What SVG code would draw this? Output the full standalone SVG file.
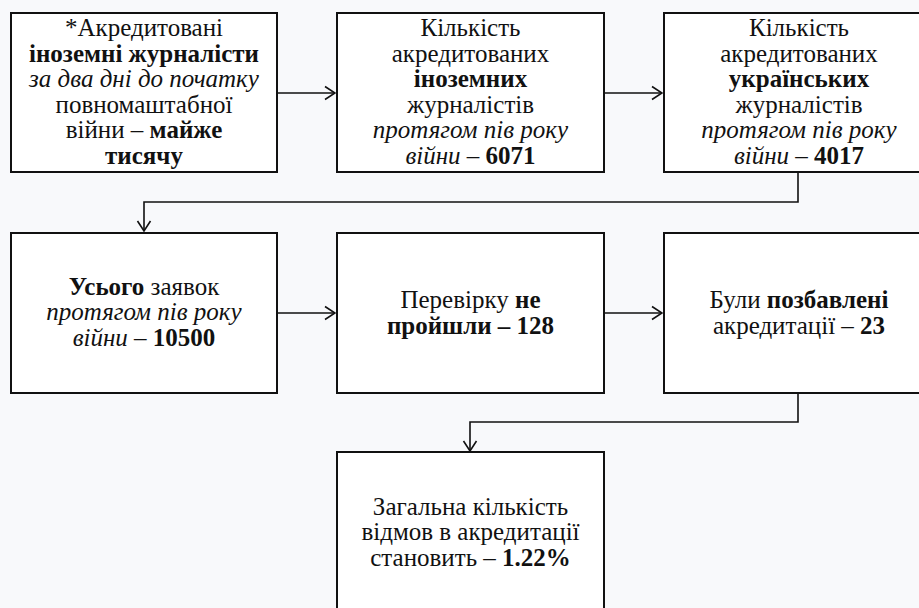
<svg xmlns="http://www.w3.org/2000/svg" width="919" height="608" viewBox="0 0 919 608">
<style>
.box{fill:#ffffff;stroke:#111111;stroke-width:2}
.t{font-family:'Liberation Serif','Times New Roman',serif;font-size:25px;fill:#111111;text-anchor:middle}
.b{font-weight:bold}
.i{font-style:italic}
.c{fill:none;stroke:#111111;stroke-width:1.6}
</style>
<defs>
<marker id="arr" viewBox="0 0 12 16" refX="11" refY="8" markerWidth="12" markerHeight="16" markerUnits="userSpaceOnUse" orient="auto">
<path d="M1,1.5 L11,8 L1,14.5" fill="none" stroke="#111111" stroke-width="1.6"/>
</marker>
</defs>
<rect x="0" y="0" width="919" height="608" fill="#f8f9fb"/>
<g id="connectors">
<path class="c" d="M277,93 H335" marker-end="url(#arr)"/>
<path class="c" d="M604,93 H662" marker-end="url(#arr)"/>
<path class="c" d="M798,172 V202 H144 V231" marker-end="url(#arr)"/>
<path class="c" d="M277,313 H335" marker-end="url(#arr)"/>
<path class="c" d="M604,313 H662" marker-end="url(#arr)"/>
<path class="c" d="M798,393 V422 H470 V451" marker-end="url(#arr)"/>
</g>
<g id="n1">
<rect class="box" x="11" y="13" width="266" height="159"/>
<text class="t" x="144" y="36">*Акредитовані</text>
<text class="t b" x="144" y="61.6">іноземні журналісти</text>
<text class="t i" x="144" y="87.2">за два дні до початку</text>
<text class="t" x="144" y="112.8">повномаштабної</text>
<text class="t" x="144" y="138.4">війни – <tspan class="b">майже</tspan></text>
<text class="t b" x="144" y="164">тисячу</text>
</g>
<g id="n2">
<rect class="box" x="337" y="13" width="267" height="159"/>
<text class="t" x="470.5" y="36">Кількість</text>
<text class="t" x="470.5" y="61.6">акредитованих</text>
<text class="t b" x="470.5" y="87.2">іноземних</text>
<text class="t" x="470.5" y="112.8">журналістів</text>
<text class="t i" x="470.5" y="138.4">протягом пів року</text>
<text class="t" x="470.5" y="164"><tspan class="i">війни</tspan> – <tspan class="b">6071</tspan></text>
</g>
<g id="n3">
<rect class="box" x="664" y="13" width="267" height="159"/>
<text class="t" x="799" y="36">Кількість</text>
<text class="t" x="799" y="61.6">акредитованих</text>
<text class="t b" x="799" y="87.2">українських</text>
<text class="t" x="799" y="112.8">журналістів</text>
<text class="t i" x="799" y="138.4">протягом пів року</text>
<text class="t" x="799" y="164"><tspan class="i">війни</tspan> – <tspan class="b">4017</tspan></text>
</g>
<g id="n4">
<rect class="box" x="11" y="233" width="266" height="160"/>
<text class="t" x="144" y="294.5"><tspan class="b">Усього</tspan> заявок</text>
<text class="t i" x="144" y="320">протягом пів року</text>
<text class="t" x="144" y="345.5"><tspan class="i">війни</tspan> – <tspan class="b">10500</tspan></text>
</g>
<g id="n5">
<rect class="box" x="337" y="233" width="267" height="160"/>
<text class="t" x="470.5" y="308">Перевірку <tspan class="b">не</tspan></text>
<text class="t b" x="470.5" y="333.5">пройшли – 128</text>
</g>
<g id="n6">
<rect class="box" x="664" y="233" width="267" height="160"/>
<text class="t" x="799" y="308">Були <tspan class="b">позбавлені</tspan></text>
<text class="t" x="799" y="333.5">акредитації – <tspan class="b">23</tspan></text>
</g>
<g id="n7">
<rect class="box" x="337" y="452" width="267" height="160"/>
<text class="t" x="470.5" y="514.5">Загальна кількість</text>
<text class="t" x="470.5" y="540">відмов в акредитації</text>
<text class="t" x="470.5" y="565.5">становить – <tspan class="b">1.22%</tspan></text>
</g>
</svg>
